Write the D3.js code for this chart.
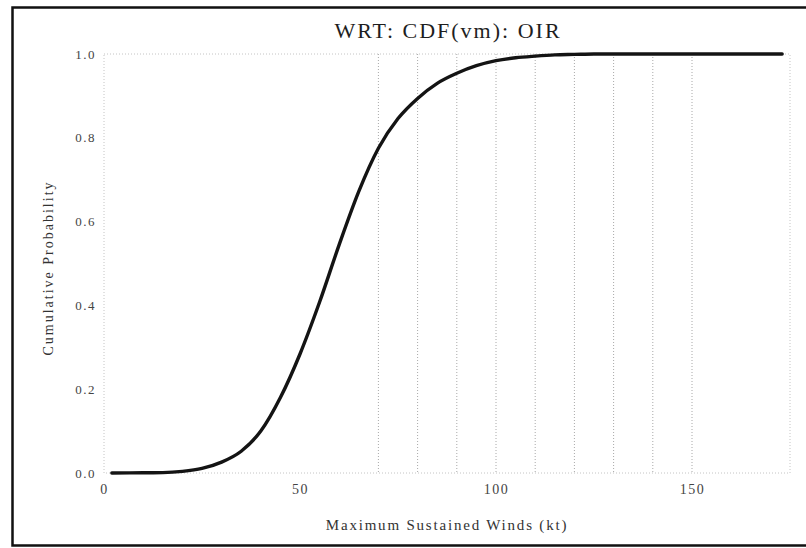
<!DOCTYPE html>
<html>
<head>
<meta charset="utf-8">
<script src="https://cdn.jsdelivr.net/npm/d3@7"></script>
<style>
  html, body { margin: 0; padding: 0; background: #fff; }
  svg { display: block; }
  text { font-family: "Liberation Serif", "DejaVu Serif", serif; }
</style>
</head>
<body>
<svg id="chart" width="806" height="548"></svg>
<script>
// Cumulative distribution of maximum sustained winds (kt)
const windKt = [2, 10, 15, 20, 25, 30, 35, 40, 45, 50, 55, 60, 65, 70, 75, 80, 85, 90, 95, 100, 105, 110, 115, 120, 125, 130, 140, 150, 160, 173];
const cumProb = [0.0, 0.0005, 0.001, 0.004, 0.011, 0.026, 0.052, 0.100, 0.180, 0.284, 0.408, 0.545, 0.672, 0.775, 0.846, 0.894, 0.930, 0.954, 0.972, 0.984, 0.991, 0.995, 0.998, 0.999, 1.0, 1.0, 1.0, 1.0, 1.0, 1.0];
const xTicks = [0, 50, 100, 150];
const yTicks = [0.0, 0.2, 0.4, 0.6, 0.8, 1.0];
const gridWinds = [70, 80, 90, 100, 110, 120, 130, 140, 150];

const titleText = "WRT: CDF(vm): OIR";
const xTitle = "Maximum Sustained Winds (kt)";
const yTitle = "Cumulative Probability";

const svg = d3.select("#chart");
const plot = { left: 104, right: 790, top: 54, bottom: 473 };

const x = d3.scaleLinear().domain([0, 175]).range([plot.left, plot.right]);
const y = d3.scaleLinear().domain([0, 1]).range([plot.bottom, plot.top]);

// outer frame (left, top, bottom edges)
svg.append("path")
  .attr("d", "M806,7.5 H12.5 V545.5 H806")
  .attr("fill", "none")
  .attr("stroke", "#111")
  .attr("stroke-width", 2.5);

const dash = "1,2";

// dotted plot frame
svg.append("rect")
  .attr("x", x(0)).attr("y", y(1))
  .attr("width", x(175) - x(0)).attr("height", y(0) - y(1))
  .attr("fill", "none")
  .attr("stroke", "#c4c4c4")
  .attr("stroke-dasharray", dash)
  .attr("stroke-width", 1);

// vertical dotted grid lines
svg.append("g").selectAll("line").data(gridWinds).join("line")
  .attr("x1", d => x(d)).attr("x2", d => x(d))
  .attr("y1", y(1)).attr("y2", y(0))
  .attr("stroke", "#a8a8a8")
  .attr("stroke-dasharray", dash)
  .attr("stroke-width", 1);

// x axis labels
const xAxis = d3.axisBottom(x).tickValues(xTicks).tickFormat(d3.format("d")).tickSize(0).tickPadding(11);
const gx = svg.append("g").attr("transform", `translate(0,${plot.bottom})`).call(xAxis);
gx.select(".domain").remove();
gx.selectAll("text").attr("font-size", 14).attr("fill", "#444")
  .attr("letter-spacing", 1.5)
  .style("font-family", '"Liberation Serif", serif');

// y axis labels
const yAxis = d3.axisLeft(y).tickValues(yTicks).tickFormat(d3.format(".1f")).tickSize(0).tickPadding(8);
const gy = svg.append("g").attr("transform", `translate(${plot.left},0)`).call(yAxis);
gy.select(".domain").remove();
gy.selectAll("text").attr("font-size", 13).attr("fill", "#444")
  .attr("letter-spacing", 1.5)
  .style("font-family", '"Liberation Serif", serif');

// CDF curve
const line = d3.line()
  .x((d, i) => x(windKt[i]))
  .y(d => y(d))
  .curve(d3.curveMonotoneX);

svg.append("path")
  .datum(cumProb)
  .attr("d", line)
  .attr("fill", "none")
  .attr("stroke", "#141414")
  .attr("stroke-width", 3.4)
  .attr("stroke-linejoin", "round")
  .attr("stroke-linecap", "round");

// titles
svg.append("text")
  .attr("x", 448).attr("y", 38)
  .attr("text-anchor", "middle")
  .attr("font-size", 22)
  .attr("letter-spacing", 2)
  .attr("fill", "#1e1e1e")
  .text(titleText);

svg.append("text")
  .attr("x", 447).attr("y", 530)
  .attr("text-anchor", "middle")
  .attr("font-size", 15)
  .attr("letter-spacing", 1.8)
  .attr("fill", "#333")
  .text(xTitle);

svg.append("text")
  .attr("transform", "translate(53,268) rotate(-90)")
  .attr("text-anchor", "middle")
  .attr("font-size", 14)
  .attr("letter-spacing", 2)
  .attr("fill", "#333")
  .text(yTitle);
</script>
</body>
</html>
